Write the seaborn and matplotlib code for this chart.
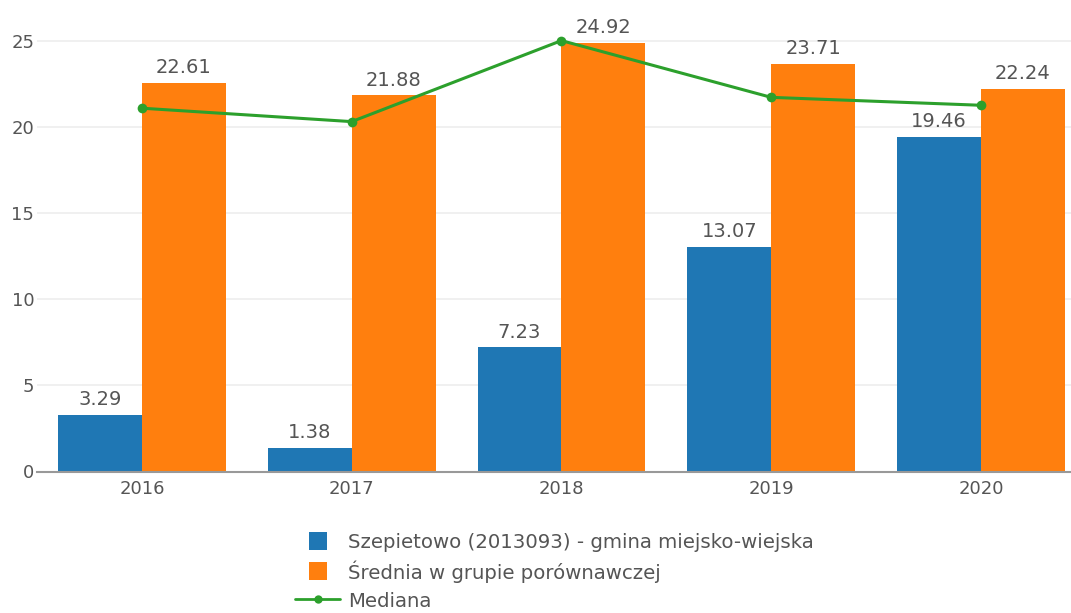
import matplotlib
matplotlib.use("Agg")
import matplotlib.pyplot as plt
import seaborn as sns
import pandas as pd
from matplotlib.lines import Line2D

years = ["2016", "2017", "2018", "2019", "2020"]
szepietowo = [3.29, 1.38, 7.23, 13.07, 19.46]
srednia = [22.61, 21.88, 24.92, 23.71, 22.24]
mediana = [21.12, 20.34, 25.05, 21.75, 21.29]

name_a = "Szepietowo (2013093) - gmina miejsko-wiejska"
name_b = "Średnia w grupie porównawczej"
name_c = "Mediana"

blue = "#1f77b4"
orange = "#ff7f0e"
green = "#2ca02c"
txt = "#555555"

df = pd.DataFrame({
    "year": years * 2,
    "value": szepietowo + srednia,
    "series": [name_a] * len(years) + [name_b] * len(years),
})

sns.set_style("white")
plt.rcParams["font.family"] = ["DejaVu Sans"]

fig = plt.figure(figsize=(10.71, 6.13), dpi=100)
ax = fig.add_axes([37 / 1071, (613 - 471.5) / 613, 1 - 37 / 1071, 471.5 / 613])

sns.barplot(data=df, x="year", y="value", hue="series", order=years,
            hue_order=[name_a, name_b], palette=[blue, orange],
            width=0.8, saturation=1, linewidth=0, ax=ax, legend=False)
sns.lineplot(x=list(range(len(years))), y=mediana, color=green, linewidth=2.2,
             marker="o", markersize=7, markeredgewidth=0, ax=ax)

for cont in ax.containers:
    for bar in cont:
        h = bar.get_height()
        ax.annotate(f"{h:.2f}", (bar.get_x() + bar.get_width() / 2, h),
                    xytext=(0, 4), textcoords="offset points", ha="center",
                    va="bottom", fontsize=14, color=txt)

ax.set_xlim(-0.5, 4.429)
ax.set_ylim(0, 27.41)
ax.set_yticks([0, 5, 10, 15, 20, 25])
ax.yaxis.grid(True, color="#eeeeee", linewidth=1.2)
ax.set_axisbelow(True)
for s in ["top", "right", "left"]:
    ax.spines[s].set_visible(False)
ax.spines["bottom"].set_color("#999999")
ax.spines["bottom"].set_linewidth(1.5)
ax.tick_params(axis="both", length=0, labelsize=13, labelcolor=txt)
ax.tick_params(axis="x", pad=6)
ax.tick_params(axis="y", pad=2)
ax.set_xlabel("")
ax.set_ylabel("")

handles = [
    Line2D([0], [0], color=blue, marker="s", linestyle="none", markersize=13,
           markeredgewidth=0),
    Line2D([0], [0], color=orange, marker="s", linestyle="none", markersize=13,
           markeredgewidth=0),
    Line2D([0], [0], color=green, linewidth=2, marker="o", markersize=6,
           markeredgewidth=0),
]
fig.legend(handles, [name_a, name_b, name_c], loc="upper left",
           bbox_to_anchor=(285 / 1071, 1 - 523 / 613), frameon=False,
           fontsize=14.2, labelcolor=txt, handlelength=2.3, handleheight=1.0,
           handletextpad=0.4, labelspacing=0.42, borderpad=0)

fig.savefig("out.png", dpi=100)
